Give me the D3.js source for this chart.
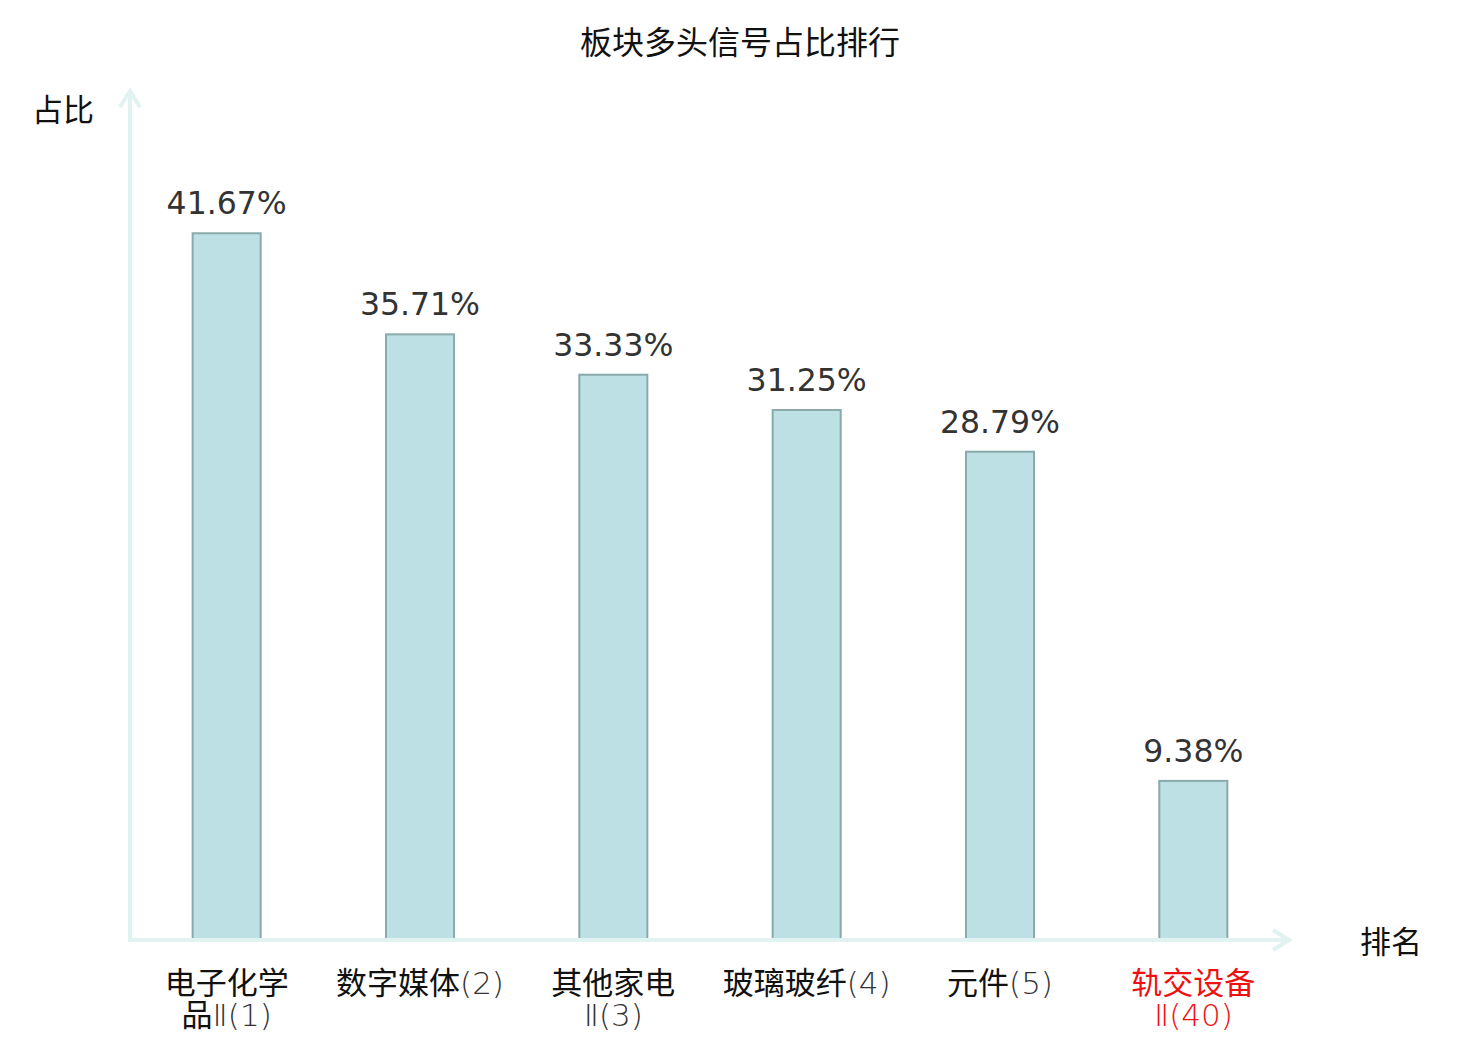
<!DOCTYPE html>
<html><head><meta charset="utf-8">
<script src="https://cdn.jsdelivr.net/npm/d3@7/dist/d3.min.js"></script>
<style>body{margin:0;background:#fff;}svg{display:block;}</style>
</head><body>
<svg id="c" width="1480" height="1040"></svg>
<script>
const categories = ["电子化学\n品Ⅱ(1)", "数字媒体(2)", "其他家电\nⅡ(3)", "玻璃玻纤(4)", "元件(5)", "轨交设备\nⅡ(40)"];
const values = [41.67, 35.71, 33.33, 31.25, 28.79, 9.38];
const highlight = [false, false, false, false, false, true];
const title = "板块多头信号占比排行";
const yName = "占比";
const xName = "排名";

const svg = d3.select("#c");
const x0 = 130, x1 = 1290, yBase = 940, yTop = 92;
const x = d3.scaleBand().domain(categories).range([x0, x1]).paddingInner(0.648).paddingOuter(0.324);
const y = d3.scaleLinear().domain([0, 50]).range([yBase, yTop]);
const axisColor = "#e0f3f1";
const cjkFont = "'Noto Sans CJK SC', sans-serif";
const latFont = "'DejaVu Sans', sans-serif";

svg.append("text").attr("x", 740).attr("y", 54).attr("text-anchor", "middle")
  .style("font-family", cjkFont).style("font-size", "32px").attr("fill", "#111").text(title);

// bars
svg.selectAll("rect.bar").data(categories).join("rect").attr("class", "bar")
  .attr("x", d => x(d)).attr("width", x.bandwidth())
  .attr("y", (d, i) => y(values[i])).attr("height", (d, i) => yBase - y(values[i]))
  .attr("fill", "#bce0e3").attr("stroke", "#8aa9aa").attr("stroke-width", 2);

// value labels
svg.selectAll("text.val").data(categories).join("text").attr("class", "val")
  .attr("x", d => x(d) + x.bandwidth() / 2).attr("y", (d, i) => y(values[i]) - 19)
  .attr("text-anchor", "middle").style("font-family", latFont).style("font-size", "31.5px")
  .attr("fill", "#333").text((d, i) => values[i].toFixed(2) + "%");

// axes
const ax = svg.append("g");
ax.append("line").attr("x1", x0).attr("y1", yBase).attr("x2", x0).attr("y2", 90).attr("stroke", axisColor).attr("stroke-width", 4);
ax.append("line").attr("x1", x0 - 2).attr("y1", yBase).attr("x2", 1290).attr("y2", yBase).attr("stroke", axisColor).attr("stroke-width", 4);
ax.append("path").attr("d", `M${x0-10},${107} L${x0},${91} L${x0+10},${107}`).attr("fill", "none").attr("stroke", axisColor).attr("stroke-width", 4);
ax.append("path").attr("d", `M1273,${yBase-10} L1289,${yBase} L1273,${yBase+10}`).attr("fill", "none").attr("stroke", axisColor).attr("stroke-width", 4);

svg.append("text").attr("x", 63).attr("y", 121).attr("text-anchor", "middle")
  .style("font-family", cjkFont).style("font-size", "31px").attr("fill", "#111").text(yName);
svg.append("text").attr("x", 1391).attr("y", 953).attr("text-anchor", "middle")
  .style("font-family", cjkFont).style("font-size", "31px").attr("fill", "#111").text(xName);

// category labels (explicit line breaks), non-CJK parts in a thinner latin font
const isCJK = ch => /[\u4e00-\u9fff]/.test(ch);
categories.forEach((c, i) => {
  const cx = x(c) + x.bandwidth() / 2;
  const t = svg.append("text").attr("text-anchor", "middle")
    .style("font-family", cjkFont).style("font-size", "31px")
    .attr("fill", highlight[i] ? "#ee1111" : "#111");
  c.split("\n").forEach((line, k) => {
    const runs = [];
    Array.from(line).forEach(ch => {
      const cj = isCJK(ch);
      if (runs.length && runs[runs.length - 1].cj === cj) runs[runs.length - 1].s += ch;
      else runs.push({ cj, s: ch });
    });
    runs.forEach((r, j) => {
      const ts = t.append("tspan").text(r.s);
      if (j === 0) ts.attr("x", cx).attr("y", 994 + k * 32);
      if (!r.cj) ts.style("font-family", latFont).style("font-weight", 200)
        .attr("fill", highlight[i] ? "#ee1111" : "#333");
    });
  });
});
</script>
</body></html>
